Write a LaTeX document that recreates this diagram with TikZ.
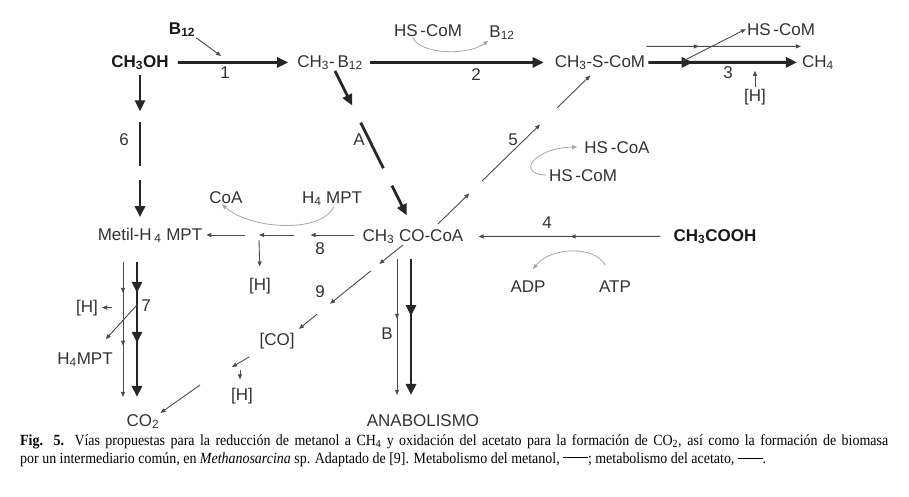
\documentclass[tikz,border=0pt]{standalone}
\usepackage{fontspec}
\setmainfont{Liberation Sans}
\newfontfamily\capfont[FakeStretch=0.9]{Liberation Serif}
\usetikzlibrary{arrows.meta, decorations.markings, calc}
\newcommand\sbs[1]{\textsubscript{#1}}
\tikzset{
  bigtip/.tip={Triangle[length=11pt,width=10pt]},
  smalltip/.tip={Triangle[length=5pt,width=4pt]}
}

\begin{document}
\begin{tikzpicture}[x=1pt, y=-1pt,
    chem/.style={font=\fontsize{17}{20}\selectfont, text=black!80,
      inner sep=1pt, anchor=base},
    chembold/.style={chem, font=\fontsize{17}{20}\selectfont\bfseries,
      text=black!90},
    heavy/.style={draw=black!85, line width=2.8pt, -{bigtip}},
    light/.style={draw=black!70, line width=0.9pt, -{smalltip}},
    side/.style={draw=black!35, line width=0.8pt, -{smalltip}},
    heavymid/.style={postaction={decorate, decoration={markings,
      mark=at position #1 with {\arrow{bigtip}}}}},
    lightmid/.style={postaction={decorate, decoration={markings,
      mark=at position #1 with {\arrow{smalltip}}}}}
  ]
  \useasboundingbox (0,0) rectangle (909,496);
  \fill[white] (0,0) rectangle (909,496);

  % compounds
  \node[chembold] (methanol) at (140,67) {CH\sbs{3}OH};
  \node[chembold] (btwelve) at (182,34) {B\sbs{12}};
  \node[chem] (methylb) at (330,67) {CH\sbs{3}-\,B\sbs{12}};
  \node[chem] (comtop) at (428,36) {HS\,-CoM};
  \node[chem] (btwelveb) at (502,37) {B\sbs{12}};
  \node[chem] (methylcom) at (600,67) {CH\sbs{3}-S-CoM};
  \node[chem] (comfree) at (781,35) {HS\,-CoM};
  \node[chem] (methane) at (818,67) {CH\sbs{4}};
  \node[chem] (hmethane) at (755,101) {[H]};
  \node[chem] (metil) at (150,240) {Metil-H\,\sbs{4} MPT};
  \node[chem] (coa) at (226,203) {CoA};
  \node[chem] (hfour) at (332,203) {H\sbs{4} MPT};
  \node[chem] (acetylcoa) at (413,241) {CH\sbs{3} CO-CoA};
  \node[chem] (hmetil) at (260,290) {[H]};
  \node[chem] (hscoa) at (617,153) {HS\,-CoA};
  \node[chem] (comside) at (583,181) {HS\,-CoM};
  \node[chembold] (acetate) at (715,241) {CH\sbs{3}COOH};
  \node[chem] (adp) at (528,292) {ADP};
  \node[chem] (atp) at (615,292) {ATP};
  \node[chem] (carbmon) at (277,345) {[CO]};
  \node[chem] (hcarb) at (242,400) {[H]};
  \node[chem] (hoxid) at (87,312) {[H]};
  \node[chem] (hfourb) at (85,364) {H\sbs{4}MPT};
  \node[chem] (cotwo) at (143,426) {CO\sbs{2}};
  \node[chem] (anab) at (423,426) {ANABOLISMO};

  % step numbers
  \node[chem] (n1) at (225,78) {1};
  \node[chem] (n2) at (476,80) {2};
  \node[chem] (n3) at (728,78) {3};
  \node[chem] (n6) at (124,145) {6};
  \node[chem] (nA) at (359,145) {A};
  \node[chem] (n5) at (513,145) {5};
  \node[chem] (n4) at (547,228) {4};
  \node[chem] (n8) at (320,254) {8};
  \node[chem] (n9) at (320,297) {9};
  \node[chem] (n7) at (146,311) {7};
  \node[chem] (nB) at (387,339) {B};

  \coordinate (join1) at (221,56);
  \coordinate (join3) at (683,61);
  \coordinate (join8) at (259,235);
  \coordinate (join7) at (137,305);
  \coordinate (joinco) at (232,367);

  % methanol pathway
  \path[heavy, shorten <=8pt, shorten >=8pt] (methanol) -- (methylb);
  \path[light] (btwelve.south east) -- (join1);
  \path[heavy, shorten <=6pt, shorten >=10pt] (methylb) -- (methylcom);
  \path[side] ([xshift=-15pt]comtop.south) .. controls +(5,16) and +(-22,16)
    .. (btwelveb.south west);
  \path[heavy, heavymid=0.3, shorten <=2pt, shorten >=4pt] (methylcom) -- (methane);
  \path[light, lightmid=0.34] ([yshift=16pt]methylcom.east) -- ([yshift=16pt]methane.west);
  \path[light] (join3) -- (comfree.west);
  \path[light] (hmethane.north) -- (hmethane.north |- methane.south);

  % step 6 (broken)
  \coordinate (six) at (methanol.south |- metil.north);
  \path[heavy] ([yshift=-4pt]methanol.south) -- ($(methanol.south)!0.26!(six)$);
  \path[heavy, -] ($(methanol.south)!0.33!(six)$) -- ($(methanol.south)!0.61!(six)$);
  \path[heavy] ($(methanol.south)!0.7!(six)$) -- ($(methanol.south)!0.94!(six)$);

  % step A (broken)
  \path[heavy] ([xshift=5pt]methylb.south) -- ($([xshift=5pt]methylb.south)!0.22!(acetylcoa.north)$);
  \path[heavy, -] ($([xshift=5pt]methylb.south)!0.33!(acetylcoa.north)$)
    -- ($([xshift=5pt]methylb.south)!0.62!(acetylcoa.north)$);
  \path[heavy] ($([xshift=5pt]methylb.south)!0.73!(acetylcoa.north)$)
    -- ($([xshift=5pt]methylb.south)!0.92!(acetylcoa.north)$);

  % step 5 (broken)
  \path[light] ([xshift=25pt,yshift=4pt]acetylcoa.north)
    -- ($([xshift=25pt,yshift=4pt]acetylcoa.north)!0.2!([xshift=-5pt]methylcom.south)$);
  \path[light] ($([xshift=25pt,yshift=4pt]acetylcoa.north)!0.28!([xshift=-5pt]methylcom.south)$)
    -- ($([xshift=25pt,yshift=4pt]acetylcoa.north)!0.65!([xshift=-5pt]methylcom.south)$);
  \path[light] ($([xshift=25pt,yshift=4pt]acetylcoa.north)!0.76!([xshift=-5pt]methylcom.south)$)
    -- ($([xshift=25pt,yshift=4pt]acetylcoa.north)!0.97!([xshift=-5pt]methylcom.south)$);
  \path[side] ([xshift=-2pt]comside.west) .. controls +(-32,-2) and +(-40,0)
    .. ([xshift=-6pt]hscoa.west);

  % step 4
  \path[light, lightmid=0.49, shorten <=12pt, shorten >=14pt] (acetate) -- (acetylcoa);
  \path[side] ([xshift=-10pt,yshift=14pt]atp.north) .. controls +(-10,-20) and +(17,-22)
    .. ([xshift=5pt,yshift=10pt]adp.north);

  % step 8 (broken)
  \path[light] ([xshift=-7pt]acetylcoa.west |- join8) -- ($([xshift=-7pt]acetylcoa.west |- join8)!0.46!(join8)$);
  \path[light] ($([xshift=-7pt]acetylcoa.west |- join8)!0.63!(join8)$) -- (join8);
  \path[light, shorten >=3pt] ([xshift=-14pt]join8) -- (join8 -| metil.east);
  \path[light, shorten >=10pt] ([yshift=-5pt]join8) -- (hmetil.north);
  \path[side] ([xshift=2pt]hfour.south) .. controls +(-15,28) and +(27,24)
    .. ([xshift=-4pt]coa.south);

  % step 9 (broken)
  \path[light] ([xshift=-10pt]acetylcoa.south) -- ($([xshift=-10pt]acetylcoa.south)!0.22!(carbmon.north east)$);
  \path[light] ($([xshift=-10pt]acetylcoa.south)!0.3!(carbmon.north east)$)
    -- ($([xshift=-10pt]acetylcoa.south)!0.68!(carbmon.north east)$);
  \path[light] ($([xshift=-10pt]acetylcoa.south)!0.8!(carbmon.north east)$)
    -- ($([xshift=-10pt]acetylcoa.south)!0.97!(carbmon.north east)$);
  \path[light, shorten <=14pt] (carbmon) -- (joinco);
  \path[light, shorten >=7pt] ([xshift=8pt,yshift=-3pt]joinco) -- (hcarb.north -| {$(joinco)+(8,0)$});
  \path[light] ($(joinco)+(-32,18)$) -- (cotwo.north east);

  % step 7
  \path[heavy, heavymid=0.23, heavymid=0.6] ($(metil.south)+(-13,18)$) -- ($(cotwo.north)+(-6,-16)$);
  \path[light, lightmid=0.23, lightmid=0.62] ($(metil.south)+(-27,18)$) -- ($(cotwo.north)+(-20,-16)$);
  \path[light] (join7) -- ($(hfourb.north east)+(-8,-12)$);
  \path[light] ([xshift=13pt]hoxid.east) -- ([xshift=3pt]hoxid.east);

  % step B
  \path[heavy, heavymid=0.42] ($(acetylcoa.south)+(-2,14)$) -- ($(anab.north)+(-12,-18)$);
  \path[light, lightmid=0.44] ($(acetylcoa.south)+(-16,14)$) -- ($(anab.north)+(-26,-18)$);

  % caption
  \node[anchor=north west, inner sep=0pt, text width=868pt, align=justify, text=black,
    font=\capfont\fontsize{15.5}{18}\selectfont] (caption) at (20,434)
    {\textbf{Fig. 5.} Vías propuestas para la reducción de metanol a CH\sbs{4} y oxidación del acetato para la formación de CO\sbs{2}, así como la formación de biomasa\linebreak
     por un intermediario común, en \textit{Methanosarcina} sp. Adaptado de [9]. Metabolismo del metanol, \rule[0.3em]{1.6em}{1pt}; metabolismo del acetato, \rule[0.3em]{1.6em}{0.5pt}.};
\end{tikzpicture}
\end{document}
